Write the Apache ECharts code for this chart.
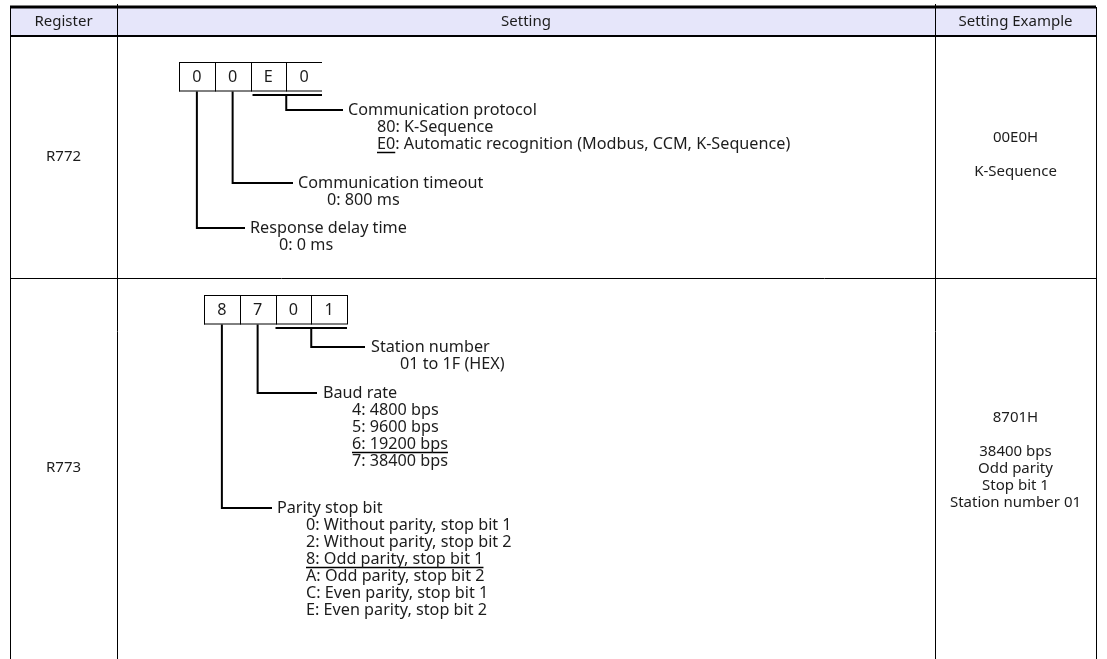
<!DOCTYPE html>
<html>
<head>
<meta charset="utf-8">
<script src="https://cdn.jsdelivr.net/npm/echarts@6/dist/echarts.min.js"></script>
<style>html,body{margin:0;padding:0;background:#fff}#c{width:1107px;height:659px}</style>
</head>
<body>
<div id="c"></div>
<script>
// ---------- DATA ----------
const headers = ['Register', 'Setting', 'Setting Example'];
const registers = ['R772', 'R773'];
const r772Digits = ['0', '0', 'E', '0'];
const r773Digits = ['8', '7', '0', '1'];
const r772Titles = ['Communication protocol', 'Communication timeout', 'Response delay time'];
const r772Options = [
  ['80: K-Sequence', 'E0: Automatic recognition (Modbus, CCM, K-Sequence)'],
  ['0: 800 ms'],
  ['0: 0 ms']
];
const r772Selected = [1, -1, -1];
const r772SelectedMark = ['E0', '', ''];
const r773Titles = ['Station number', 'Baud rate', 'Parity stop bit'];
const r773Options = [
  ['01 to 1F (HEX)'],
  ['4: 4800 bps', '5: 9600 bps', '6: 19200 bps', '7: 38400 bps'],
  ['0: Without parity, stop bit 1', '2: Without parity, stop bit 2', '8: Odd parity, stop bit 1',
   'A: Odd parity, stop bit 2', 'C: Even parity, stop bit 1', 'E: Even parity, stop bit 2']
];
const r773Selected = [-1, 2, 2];
const r773SelectedMark = ['', '6: 19200 bps', '8: Odd parity, stop bit 1'];
const r772Example = ['00E0H', '', 'K-Sequence'];
const r773Example = ['8701H', '', '38400 bps', 'Odd parity', 'Stop bit 1', 'Station number 01'];

// ---------- LAYOUT ----------
const FONT = '15px "Noto Sans", "Open Sans", sans-serif';
const BODY_FONT = '16.2px "Noto Sans", "Open Sans", sans-serif';
const COLOR = '#1c1c1c';
const LH = 17;
const L = 10, R = 1096, HT = 7, HB = 36, ROW1B = 278, ROW2B = 658;
const C1 = 117, C2 = 935;
const CELL = 35.75, CELLH = 28.5;

const measure = (() => {
  const cv = document.createElement('canvas').getContext('2d');
  return (t) => { cv.font = BODY_FONT; return cv.measureText(t).width; };
})();

const els = [];
function text(t, x, y, align, font) {
  els.push({ type: 'text', x: x, y: y, z: 10,
    style: { text: t, font: font || FONT, fill: COLOR, align: align || 'left', verticalAlign: 'middle',
             textAlign: align || 'left', textVerticalAlign: 'middle' } });
}
function line(x1, y1, x2, y2, w) {
  els.push({ type: 'line', z: 5, shape: { x1, y1, x2, y2 }, style: { stroke: '#000', lineWidth: w || 1 } });
}
function poly(pts, w) {
  els.push({ type: 'polyline', z: 5, shape: { points: pts }, style: { stroke: '#000', lineWidth: w || 2, fill: null } });
}

// header
els.push({ type: 'rect', z: 1, shape: { x: L, y: HT, width: R - L, height: HB - HT }, style: { fill: '#e6e6fa' } });
line(L, HT, R, HT, 3);
line(L, HB, R, HB, 2);
// vertical borders
line(L + 0.5, HT, L + 0.5, 659, 1);
line(R + 0.5, HT, R + 0.5, 659, 1);
line(C1 + 0.5, 4, C1 + 0.5, 659, 1);
line(C2 + 0.5, 4, C2 + 0.5, 659, 1);
line(L, ROW1B + 0.5, R, ROW1B + 0.5, 1);

text(headers[0], (L + C1) / 2, (HT + HB) / 2 + 0.5, 'center');
text(headers[1], (C1 + C2) / 2, (HT + HB) / 2 + 0.5, 'center');
text(headers[2], (C2 + R) / 2, (HT + HB) / 2 + 0.5, 'center');

const row1Mid = (HB + ROW1B) / 2, row2Mid = (ROW1B + ROW2B) / 2;
text(registers[0], (L + C1) / 2, row1Mid, 'center');
text(registers[1], (L + C1) / 2, row2Mid, 'center');

function examples(arr, mid) {
  const start = mid - (arr.length - 1) * LH / 2;
  arr.forEach((t, i) => { if (t) text(t, (C2 + R) / 2, start + i * LH, 'center'); });
}
examples(r772Example, row1Mid - 2);
examples(r773Example, row2Mid - 8);

function digitBox(digits, x0, y0, closedRight) {
  const w = CELL * digits.length;
  line(x0, y0 + 0.5, x0 + w, y0 + 0.5, 1);
  line(x0, y0 + CELLH + 0.5, x0 + w, y0 + CELLH + 0.5, 1);
  for (let i = 0; i <= digits.length; i++) {
    if (i === digits.length && !closedRight) break;
    const x = Math.round(x0 + i * CELL) + 0.5;
    line(x, y0, x, y0 + CELLH + 1, 1);
  }
  digits.forEach((d, i) => text(d, x0 + (i + 0.5) * CELL, y0 + CELLH / 2 + 1, 'center', BODY_FONT));
}

// field block: title at (tx, ty), options indented below
function field(title, opts, sel, mark, tx, ty) {
  text(title, tx, ty, 'left', BODY_FONT);
  const ox = tx + 29;
  opts.forEach((o, i) => {
    const y = ty + (i + 1) * LH;
    text(o, ox, y, 'left', BODY_FONT);
    if (i === sel && mark) {
      const w = measure(mark);
      line(ox, y + 8.5, ox + w, y + 8.5, 1.5);
    }
  });
}

// ---- R772 ----
const b1x = 179, b1y = 62;
digitBox(r772Digits, b1x, b1y, false);
const b1Bot = b1y + CELLH + 1;
// bracket under last two digits
line(b1x + 2 * CELL + 2, 95, b1x + 4 * CELL, 95, 2);
poly([[b1x + 3 * CELL, 95], [b1x + 3 * CELL, 110], [343, 110]]);
field(r772Titles[0], r772Options[0], r772Selected[0], r772SelectedMark[0], 348, 110);
poly([[b1x + 1.5 * CELL, b1Bot], [b1x + 1.5 * CELL, 183], [293, 183]]);
field(r772Titles[1], r772Options[1], r772Selected[1], r772SelectedMark[1], 298, 183);
poly([[b1x + 0.5 * CELL, b1Bot], [b1x + 0.5 * CELL, 228], [245, 228]]);
field(r772Titles[2], r772Options[2], r772Selected[2], r772SelectedMark[2], 250, 228);

// ---- R773 ----
const b2x = 204, b2y = 295;
digitBox(r773Digits, b2x, b2y, true);
const b2Bot = b2y + CELLH + 1;
line(b2x + 2 * CELL, 328, b2x + 4 * CELL, 328, 2);
poly([[b2x + 3 * CELL, 328], [b2x + 3 * CELL, 347], [365, 347]]);
field(r773Titles[0], r773Options[0], r773Selected[0], r773SelectedMark[0], 371, 347);
poly([[b2x + 1.5 * CELL, b2Bot], [b2x + 1.5 * CELL, 393], [317, 393]]);
field(r773Titles[1], r773Options[1], r773Selected[1], r773SelectedMark[1], 323, 393);
poly([[b2x + 0.5 * CELL, b2Bot], [b2x + 0.5 * CELL, 508], [272, 508]]);
field(r773Titles[2], r773Options[2], r773Selected[2], r773SelectedMark[2], 277, 508);

const chart = echarts.init(document.getElementById('c'), null, { renderer: 'canvas' });
chart.setOption({ animation: false, graphic: { elements: els } });
</script>
</body>
</html>
